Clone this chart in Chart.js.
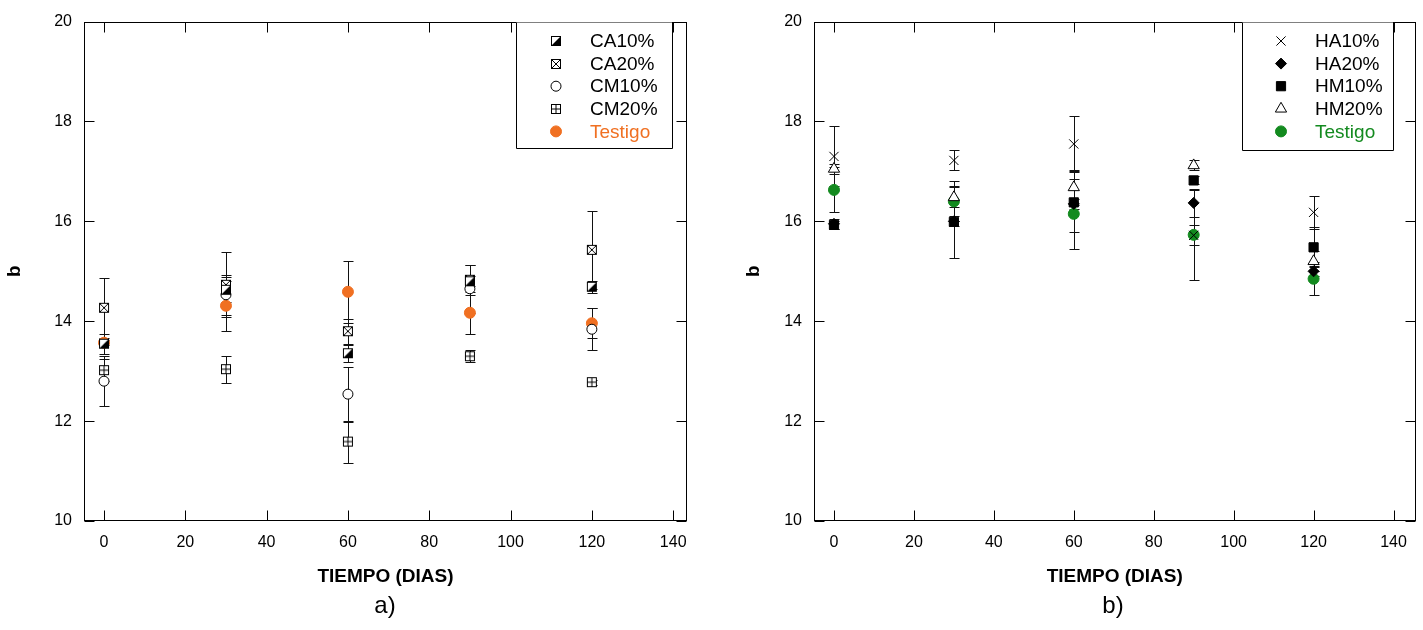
<!DOCTYPE html>
<html>
<head>
<meta charset="utf-8">
<script src="https://cdn.jsdelivr.net/npm/chart.js@4"></script>
<style>
body { margin: 0; background: #fff; overflow: hidden; width: 1423px; height: 630px; position: relative; font-family: "Liberation Sans", Arial, sans-serif; }
#wa { position: absolute; left: 0; top: 0; width: 710px; height: 592px; }
#wb { position: absolute; left: 730px; top: 0; width: 693px; height: 592px; }
.cap { position: absolute; top: 591px; width: 60px; margin-left: -30px; text-align: center; font-size: 24px; line-height: 28px; color: #000; }
</style>
</head>
<body>
<div id="wa"><canvas id="ca"></canvas></div>
<div id="wb"><canvas id="cb"></canvas></div>
<div class="cap" style="left:385px">a)</div>
<div class="cap" style="left:1113px">b)</div>
<script>
const dias = [0, 30, 60, 90, 120]
const xTicks = [0, 20, 40, 60, 80, 100, 120, 140]
const yTicks = [10, 12, 14, 16, 18, 20]

// panel a
const ca10 = [13.55, 14.63, 13.36, 14.80, 14.69]
const ca10Err = [0.2, 0.25, 0.17, 0.1, 0.12]
const ca20 = [14.27, 14.73, 13.80, 14.83, 15.43]
const ca20Err = [0.6, 0.65, 0.25, 0.3, 0.78]
const cm10 = [12.80, 14.53, 12.54, 14.65, 13.84]
const cm10Err = [0.5, 0.4, 0.55, 0.48, 0.42]
const cm20 = [13.02, 13.04, 11.59, 13.30, 12.78]
const cm20Err = [0.22, 0.27, 0.42, 0.12, 0.05]
const testigoA = [13.57, 14.31, 14.59, 14.17, 13.96]
const testigoAErr = [0.05, 0.5, 0.62, 0.42, 0.3]

// panel b
const ha10 = [17.30, 17.22, 17.55, 15.72, 16.18]
const ha10Err = [0.6, 0.2, 0.55, 0.2, 0.33]
const ha20 = [15.95, 16.00, 16.35, 16.37, 15.00]
const ha20Err = [0.1, 0.1, 0.1, 0.28, 0.1]
const hm10 = [15.93, 15.99, 16.38, 16.82, 15.48]
const hm10Err = [0.08, 0.72, 0.6, 0.08, 0.4]
const hm20 = [17.05, 16.48, 16.68, 17.12, 15.20]
const hm20Err = [0.1, 0.2, 0.35, 0.1, 0.2]
const testigoB = [16.63, 16.40, 16.15, 15.73, 14.85]
const testigoBErr = [0.45, 0.4, 0.7, 0.9, 0.33]

const ORANGE = '#f07022', GREEN = '#138a1f'

Chart.defaults.color = '#000'
Chart.defaults.font.family = '"Liberation Sans", Arial, sans-serif'

function marker(draw) {
    let c = document.createElement('canvas')
    c.width = 12; c.height = 12
    let g = c.getContext('2d')
    g.strokeStyle = '#000'; g.lineWidth = 1
    g.fillStyle = '#fff'; g.fillRect(1.5, 1.5, 9, 9)
    draw(g)
    g.strokeRect(1.5, 1.5, 9, 9)
    return c
}
const halfBox = marker(g => {
    g.fillStyle = '#000'
    g.beginPath(); g.moveTo(10.5, 1.5); g.lineTo(10.5, 10.5); g.lineTo(1.5, 10.5); g.closePath(); g.fill()
})
const crossBox = marker(g => {
    g.beginPath(); g.moveTo(1.5, 1.5); g.lineTo(10.5, 10.5); g.moveTo(10.5, 1.5); g.lineTo(1.5, 10.5); g.stroke()
})
const plusBox = marker(g => {
    g.beginPath(); g.moveTo(6, 1.5); g.lineTo(6, 10.5); g.moveTo(1.5, 6); g.lineTo(10.5, 6); g.stroke()
})

function series(label, ys, err, style) {
    return Object.assign({
        label: label,
        data: dias.map((d, i) => ({ x: d, y: ys[i] })),
        err: err,
        pointRadius: 5,
        borderWidth: 1,
        borderColor: '#000',
        backgroundColor: '#fff',
        showLine: false
    }, style)
}

const errorBars = {
    id: 'errorBars',
    beforeDatasetsDraw(chart) {
        let ctx = chart.ctx, ys = chart.scales.y
        ctx.save()
        ctx.strokeStyle = '#111'
        ctx.lineWidth = 1
        chart.data.datasets.forEach((ds, i) => {
            let meta = chart.getDatasetMeta(i)
            ds.data.forEach((p, j) => {
                let x = Math.round(meta.data[j].x) + 0.5
                let top = Math.round(ys.getPixelForValue(p.y + ds.err[j])) + 0.5
                let bot = Math.round(ys.getPixelForValue(p.y - ds.err[j])) + 0.5
                ctx.beginPath()
                ctx.moveTo(x, top); ctx.lineTo(x, bot)
                ctx.moveTo(x - 5, top); ctx.lineTo(x + 5, top)
                ctx.moveTo(x - 5, bot); ctx.lineTo(x + 5, bot)
                ctx.stroke()
            })
        })
        ctx.restore()
    }
}

const frame = {
    id: 'frame',
    afterDraw(chart) {
        let ctx = chart.ctx, a = chart.chartArea
        let L = Math.round(a.left) + 0.5, R = Math.round(a.right) - 0.5
        let T = Math.round(a.top) + 0.5, B = Math.round(a.bottom) - 0.5
        ctx.save()
        ctx.strokeStyle = '#000'
        ctx.lineWidth = 1
        ctx.strokeRect(L, T, R - L, B - T)
        ctx.beginPath()
        chart.scales.x.ticks.forEach(t => {
            let x = Math.round(chart.scales.x.getPixelForValue(t.value)) + 0.5
            ctx.moveTo(x, B); ctx.lineTo(x, B - 10)
            ctx.moveTo(x, T); ctx.lineTo(x, T + 10)
        })
        chart.scales.y.ticks.forEach(t => {
            let y = Math.round(chart.scales.y.getPixelForValue(t.value)) + 0.5
            ctx.moveTo(L, y); ctx.lineTo(L + 10, y)
            ctx.moveTo(R, y); ctx.lineTo(R - 10, y)
        })
        ctx.stroke()
        ctx.restore()
    }
}

const boxLegend = {
    id: 'boxLegend',
    afterDraw(chart, args, opts) {
        let ctx = chart.ctx, top = Math.round(chart.chartArea.top) + 0.5
        ctx.save()
        ctx.fillStyle = '#fff'
        ctx.fillRect(opts.left, top, opts.right - opts.left, opts.bottom - top)
        ctx.strokeStyle = '#000'
        ctx.lineWidth = 1
        ctx.beginPath()
        ctx.moveTo(opts.left + 0.5, top); ctx.lineTo(opts.left + 0.5, opts.bottom + 0.5)
        ctx.lineTo(opts.right + 0.5, opts.bottom + 0.5); ctx.lineTo(opts.right + 0.5, top)
        ctx.stroke()
        ctx.font = '19px "Liberation Sans", Arial, sans-serif'
        ctx.textBaseline = 'middle'
        chart.data.datasets.forEach((ds, i) => {
            let y = opts.firstRow + i * opts.rowGap
            let mx = opts.markerX
            ctx.save()
            if (ds.pointStyle instanceof HTMLCanvasElement) {
                ctx.drawImage(ds.pointStyle, Math.round(mx - 6), Math.round(y - 6))
            } else {
                ctx.fillStyle = ds.backgroundColor
                ctx.strokeStyle = ds.borderColor
                ctx.lineWidth = ds.borderWidth
                Chart.helpers.drawPoint(ctx, { pointStyle: ds.pointStyle || 'circle', radius: ds.pointRadius, rotation: 0, borderWidth: ds.borderWidth }, mx, y)
            }
            ctx.restore()
            ctx.fillStyle = ds.textColor || '#000'
            ctx.fillText(ds.label, opts.textX, y + 1)
        })
        ctx.restore()
    }
}

function makeChart(id, datasets, legendPos, xRange, titlePad, padRight) {
    return new Chart(document.getElementById(id), {
        type: 'scatter',
        data: { datasets: datasets },
        options: {
            responsive: true,
            maintainAspectRatio: false,
            animation: false,
            layout: { padding: { top: 18, right: padRight, bottom: 1, left: 0 } },
            plugins: {
                legend: { display: false },
                tooltip: { enabled: false },
                boxLegend: legendPos
            },
            scales: {
                x: {
                    type: 'linear', min: xRange[0], max: xRange[1],
                    afterBuildTicks: s => { s.ticks = xTicks.map(v => ({ value: v })) },
                    afterFit: s => { s.height = 70 },
                    grid: { display: false, drawTicks: false },
                    border: { display: false },
                    ticks: { padding: 12, font: { size: 16 }, color: '#000' },
                    title: { display: true, text: 'TIEMPO (DIAS)', font: { size: 19, weight: 'bold' }, padding: { top: 0, bottom: 3 }, color: '#000' }
                },
                y: {
                    type: 'linear', min: 10, max: 20,
                    afterBuildTicks: s => { s.ticks = yTicks.map(v => ({ value: v })) },
                    afterFit: s => { s.width = 84 },
                    grid: { display: false, drawTicks: false },
                    border: { display: false },
                    ticks: { padding: 12, font: { size: 16 }, color: '#000' },
                    title: { display: true, text: 'b', font: { size: 19, weight: 'bold' }, padding: { top: titlePad, bottom: 0 }, color: '#000' }
                }
            }
        },
        plugins: [errorBars, frame, boxLegend]
    })
}

makeChart('ca', [
    series('CA10%', ca10, ca10Err, { pointStyle: halfBox }),
    series('CA20%', ca20, ca20Err, { pointStyle: crossBox }),
    series('CM10%', cm10, cm10Err, { pointStyle: 'circle', pointRadius: 5 }),
    series('CM20%', cm20, cm20Err, { pointStyle: plusBox }),
    series('Testigo', testigoA, testigoAErr, { pointStyle: 'circle', pointRadius: 5.5, backgroundColor: ORANGE, borderColor: ORANGE, textColor: ORANGE })
], { left: 516, right: 672, bottom: 148, markerX: 556, textX: 590, firstRow: 41, rowGap: 22.6 }, [-4.92, 143.4], 3, 23)

makeChart('cb', [
    series('HA10%', ha10, ha10Err, { pointStyle: 'crossRot', pointRadius: 6.5 }),
    series('HA20%', ha20, ha20Err, { pointStyle: 'rectRot', pointRadius: 5.5, backgroundColor: '#000' }),
    series('HM10%', hm10, hm10Err, { pointStyle: 'rect', pointRadius: 6.5, backgroundColor: '#000' }),
    series('HM20%', hm20, hm20Err, { pointStyle: 'triangle', pointRadius: 6.5 }),
    series('Testigo', testigoB, testigoBErr, { pointStyle: 'circle', pointRadius: 5.5, backgroundColor: GREEN, borderColor: GREEN, textColor: GREEN })
], { left: 512, right: 663, bottom: 150, markerX: 551, textX: 585, firstRow: 41, rowGap: 22.6 }, [-5, 145.5], 12, 7)
</script>
</body>
</html>
